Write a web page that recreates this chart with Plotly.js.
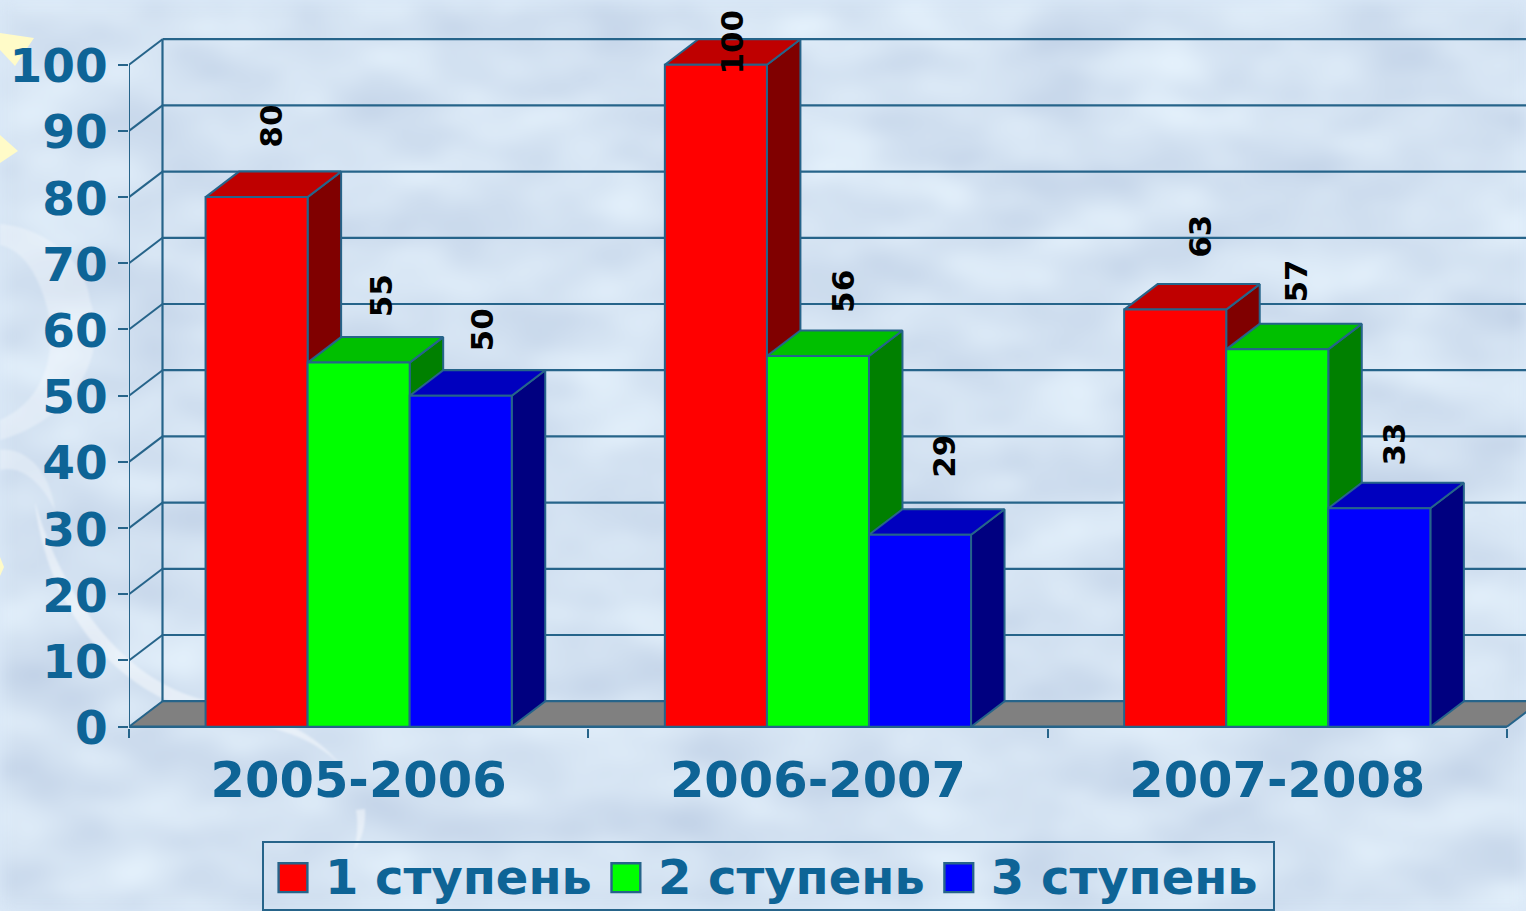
<!DOCTYPE html>
<html>
<head>
<meta charset="utf-8">
<script src="https://cdn.plot.ly/plotly-3.0.1.min.js"></script>
<style>
html,body{margin:0;padding:0;width:1526px;height:911px;overflow:hidden;background:#dbe9f8}
#bg{position:absolute;left:0;top:0}
#chart{position:absolute;left:0;top:0;width:1526px;height:911px}
.legend .legendpoints path{transform:translate(29px,-3px) scale(2.4);stroke-width:1px !important}
.legend text.legendtext{transform:translateY(-5px)}
.legend rect.bg{width:1011px;height:68px}
g.ytick{transform:translateY(1px)}
</style>
</head>
<body>
<svg id="bg" width="1526" height="911" xmlns="http://www.w3.org/2000/svg">
<defs>
<filter id="mottle" x="0" y="0" width="100%" height="100%" color-interpolation-filters="sRGB">
<feTurbulence type="fractalNoise" baseFrequency="0.009 0.02" numOctaves="3" seed="7"/>
<feColorMatrix type="matrix" values="0.2 0 0 0 0.73  0.18 0 0 0 0.797  0.12 0 0 0 0.888  0 0 0 0 1"/>
<feGaussianBlur stdDeviation="7"/>
</filter>
<filter id="soft"><feGaussianBlur stdDeviation="0.8"/></filter>
</defs>
<rect width="1526" height="911" filter="url(#mottle)"/>
<g fill="#ffffff" fill-opacity="0.45" filter="url(#soft)">
<path d="M0,224 C45,228 85,260 90,300 C110,360 70,420 0,440 L0,420 C35,405 55,370 50,320 C42,280 25,250 0,245 Z" fill-opacity="0.3"/>
<path d="M35,502 C60,590 120,680 205,700 C270,715 310,725 345,770 C310,730 260,725 200,712 C110,690 45,600 35,502 Z"/>
<path d="M356,810 L365,809 C366,825 362,840 354,850 C358,835 358,822 356,810 Z"/>
<path d="M0,450 C25,447 50,470 55,510 C40,480 20,465 0,470 Z" fill-opacity="0.3"/>
</g>
<g fill="#fffbc8">
<path d="M0,33 L34,38 L15,66 L0,50 Z"/>
<path d="M0,135 L18,151 L0,163 Z"/>
<path d="M0,557 L4,567 L0,576 Z"/>
</g>
</svg>
<div id="chart"></div>
<script>
// Chart values
var categories = ['2005-2006', '2006-2007', '2007-2008'];
var seriesNames = ['1 ступень', '2 ступень', '3 ступень'];
var stage1 = [80, 100, 63];
var stage2 = [55, 56, 57];
var stage3 = [50, 29, 33];
var yTicks = [0, 10, 20, 30, 40, 50, 60, 70, 80, 90, 100];

// Styles
var frontColors = ['#ff0000', '#00ff00', '#0000ff'];
var topColors = ['#bf0000', '#00bf00', '#0000bf'];
var sideColors = ['#800000', '#008000', '#000080'];
var lineColor = '#26648a';
var textColor = '#0e6496';

// Geometry
var plotLeft = 129, plotRight = 1526, catPx = 459.3, plotBottomPx = 728, unitPx = 6.62;
var xRange = [-0.5, -0.5 + (plotRight - plotLeft) / catPx];
var yRange = [-0.2, plotBottomPx / unitPx - 0.2];
var depthX = 33.5 / catPx, depthY = 25.5 / unitPx;
var barW = 2 / 9;

// Per-label nudges (pixels) of the rotated value labels, series by series
var labelShiftX = [[15, 16, 24], [22, 25, 19], [21, 24, 15]];
var labelShiftY = [[71, 23, 73], [67, 65, 68], [66, 78, 64]];

var allSeries = [stage1, stage2, stage3];
var traces = [];

function addLine(xs, ys, w) {
  traces.push({type: 'scatter', mode: 'lines', x: xs, y: ys, xaxis: 'x', yaxis: 'y',
    line: {color: lineColor, width: w || 2}, showlegend: false, hoverinfo: 'skip', cliponaxis: false});
}

// Floor
var xL = -0.5, xR = 2.5;
traces.push({type: 'scatter', mode: 'lines', fill: 'toself', fillcolor: '#808080',
  x: [xL, xL + depthX, xR + depthX, xR, xL], y: [0, depthY, depthY, 0, 0],
  line: {color: lineColor, width: 1}, showlegend: false, hoverinfo: 'skip', cliponaxis: false});

// Wall grid, side wall steps, axis lines
var gx = [], gy = [], sx = [], sy = [];
yTicks.forEach(function (t) {
  gx.push(xL + depthX, xR + depthX, null); gy.push(t + depthY, t + depthY, null);
  sx.push(xL, xL + depthX, null); sy.push(t, t + depthY, null);
});
addLine(gx, gy, 2.2);
addLine(sx, sy, 2);
addLine([xL + depthX, xL + depthX], [depthY, 100 + depthY], 2.2);
addLine([xL, xL], [0, 100], 2);
addLine([xL, xR], [0, 0], 2.5);
addLine([xR, xR + depthX], [0, depthY], 2);

// Depth faces of the bars (below the overlay with the front faces)
allSeries.forEach(function (vals, i) {
  var tx = [], ty = [], px = [], py = [];
  vals.forEach(function (v, j) {
    var l = j - 1 / 3 + i * barW, r = l + barW;
    tx.push(l, r, r + depthX, l + depthX, l, null);
    ty.push(v, v, v + depthY, v + depthY, v, null);
    px.push(r, r, r + depthX, r + depthX, r, null);
    py.push(0, v, v + depthY, depthY, 0, null);
  });
  traces.push({type: 'scatter', mode: 'lines', fill: 'toself', fillcolor: sideColors[i], x: px, y: py,
    line: {color: lineColor, width: 2}, showlegend: false, hoverinfo: 'skip'});
  traces.push({type: 'scatter', mode: 'lines', fill: 'toself', fillcolor: topColors[i], x: tx, y: ty,
    line: {color: lineColor, width: 2}, showlegend: false, hoverinfo: 'skip'});
});

// Front faces
allSeries.forEach(function (vals, i) {
  traces.push({type: 'bar', name: seriesNames[i], x: categories, y: vals, xaxis: 'x2', yaxis: 'y2',
    marker: {color: frontColors[i], line: {color: lineColor, width: 2}}});
});

// Rotated value labels
var annotations = [];
allSeries.forEach(function (vals, i) {
  vals.forEach(function (v, j) {
    annotations.push({xref: 'x', yref: 'y', x: j - 1 / 3 + i * barW + barW / 2, y: v,
      xshift: labelShiftX[i][j], yshift: labelShiftY[i][j],
      text: String(v), textangle: -90, showarrow: false, xanchor: 'center', yanchor: 'middle',
      font: {family: 'DejaVu Sans', size: 31, weight: 'bold', color: '#000000'}});
  });
});

var layout = {
  width: 1526, height: 911,
  margin: {l: plotLeft, r: 0, t: 0, b: 911 - plotBottomPx, pad: 0, autoexpand: false},
  paper_bgcolor: 'rgba(0,0,0,0)', plot_bgcolor: 'rgba(0,0,0,0)',
  barmode: 'group', bargap: 1 / 3, bargroupgap: 0,
  hovermode: false,
  xaxis: {range: xRange, showgrid: false, zeroline: false, showline: false, ticks: '', showticklabels: false, fixedrange: true},
  yaxis: {range: yRange, tickmode: 'array', tickvals: yTicks, ticks: 'outside', ticklen: 10, tickwidth: 2, tickcolor: lineColor,
    showgrid: false, zeroline: false, showline: false, ticklabelstandoff: 1, fixedrange: true,
    tickfont: {family: 'DejaVu Sans', size: 47, weight: 'bold', color: textColor}},
  xaxis2: {type: 'category', overlaying: 'x', anchor: 'y2', side: 'bottom', range: xRange, tickson: 'boundaries',
    categoryorder: 'array', categoryarray: categories,
    ticks: 'outside', ticklen: 9, tickwidth: 2, tickcolor: lineColor, showgrid: false, zeroline: false, showline: false,
    ticklabelstandoff: 18, fixedrange: true,
    tickfont: {family: 'DejaVu Sans', size: 49.5, weight: 'bold', color: textColor}},
  yaxis2: {overlaying: 'y', anchor: 'x2', side: 'left', range: yRange, showgrid: false, zeroline: false, showline: false,
    ticks: '', showticklabels: false, fixedrange: true},
  legend: {orientation: 'h', xref: 'paper', yref: 'paper', x: (262 - plotLeft) / (plotRight - plotLeft), xanchor: 'left',
    y: (plotBottomPx - 841) / plotBottomPx, yanchor: 'top', bordercolor: lineColor, borderwidth: 2, bgcolor: 'rgba(0,0,0,0)',
    font: {family: 'DejaVu Sans', size: 48, weight: 'bold', color: textColor}, itemwidth: 51, itemclick: false, itemdoubleclick: false},
  annotations: annotations
};

Plotly.newPlot('chart', traces, layout, {displayModeBar: false, staticPlot: false});
</script>
</body>
</html>
